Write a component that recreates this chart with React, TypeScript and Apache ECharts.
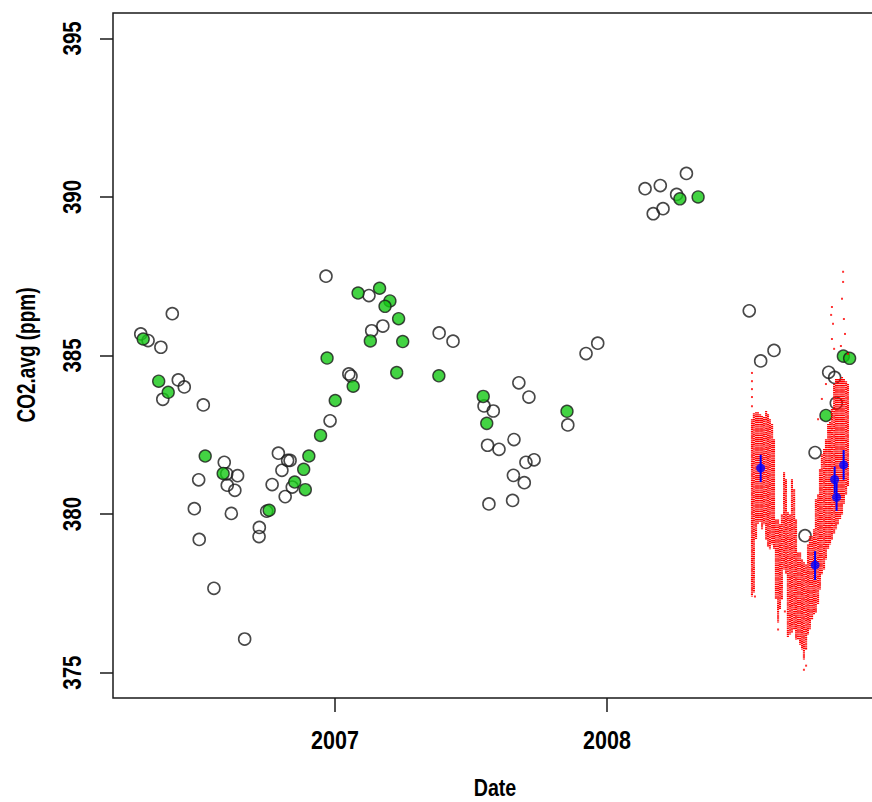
import React, { useEffect, useRef } from "react";
import * as echarts from "echarts";

// Discrete flask samples (open circles)
const openDates = [2006.402, 2006.286, 2006.313, 2006.360, 2006.424, 2006.446, 2006.367, 2006.516, 2006.593, 2006.602, 2006.642, 2006.499, 2006.604, 2006.632, 2006.483, 2006.619, 2006.501, 2006.555, 2006.668, 2006.722, 2006.721, 2006.749, 2006.967, 2007.125, 2007.176, 2007.135, 2007.051, 2007.059, 2006.982, 2006.792, 2006.826, 2006.835, 2006.805, 2006.769, 2006.843, 2006.817, 2007.383, 2007.434, 2007.923, 2007.966, 2007.676, 2007.713, 2007.548, 2007.582, 2007.856, 2007.658, 2007.561, 2007.603, 2007.732, 2007.702, 2007.656, 2007.696, 2007.566, 2007.653, 2008.140, 2008.196, 2008.292, 2008.256, 2008.206, 2008.170, 2008.523, 2008.614, 2008.565, 2008.815, 2008.837, 2008.843, 2008.765, 2008.728];
const openCO2 = [386.32, 385.68, 385.47, 385.26, 384.23, 384.01, 383.62, 383.44, 381.63, 381.27, 381.21, 381.08, 380.91, 380.75, 380.17, 380.02, 379.20, 377.66, 376.06, 379.58, 379.29, 380.09, 387.50, 386.89, 385.93, 385.78, 384.42, 384.35, 382.94, 381.92, 381.69, 381.69, 381.38, 380.93, 380.85, 380.55, 385.71, 385.45, 385.06, 385.39, 384.14, 383.69, 383.41, 383.25, 382.81, 382.35, 382.17, 382.04, 381.71, 381.63, 381.22, 380.99, 380.32, 380.43, 390.26, 390.36, 390.74, 390.08, 389.63, 389.47, 386.41, 385.16, 384.83, 384.47, 384.31, 383.50, 381.94, 379.32];

// Green filled samples
const greenDates = [2006.295, 2006.352, 2006.387, 2006.523, 2006.589, 2006.758, 2007.085, 2007.164, 2007.202, 2007.184, 2007.234, 2007.130, 2007.249, 2006.971, 2007.227, 2007.067, 2007.001, 2006.947, 2006.904, 2006.885, 2006.852, 2006.891, 2007.382, 2007.545, 2007.558, 2007.853, 2008.268, 2008.335, 2008.805, 2008.869, 2008.892];
const greenCO2 = [385.52, 384.19, 383.84, 381.83, 381.28, 380.12, 386.97, 387.12, 386.72, 386.55, 386.16, 385.46, 385.44, 384.92, 384.46, 384.03, 383.58, 382.48, 381.83, 381.41, 381.01, 380.77, 384.36, 383.71, 382.86, 383.24, 389.94, 390.00, 383.11, 384.98, 384.91];

// Blue means with error bars
const blueDates = [2008.565, 2008.765, 2008.837, 2008.844, 2008.870];
const blueCO2 = [381.45, 378.39, 381.09, 380.53, 381.55];
const blueLow = [381.01, 377.92, 380.66, 380.10, 381.08];
const blueHigh = [381.87, 378.83, 381.50, 380.99, 382.02];

// Continuous measurements: per-date range of the red cloud
const cloudDates = [2008.533, 2008.540, 2008.548, 2008.555, 2008.563, 2008.570, 2008.577, 2008.585, 2008.592, 2008.599, 2008.607, 2008.614, 2008.621, 2008.629, 2008.636, 2008.643, 2008.651, 2008.658, 2008.665, 2008.673, 2008.680, 2008.688, 2008.695, 2008.702, 2008.710, 2008.717, 2008.724, 2008.732, 2008.739, 2008.746, 2008.754, 2008.761, 2008.768, 2008.776, 2008.783, 2008.790, 2008.798, 2008.805, 2008.813, 2008.820, 2008.827, 2008.835, 2008.842, 2008.849, 2008.857, 2008.864, 2008.871, 2008.879, 2008.886];
const cloudHigh = [382.99, 383.18, 383.21, 383.21, 383.15, 383.09, 383.06, 383.25, 383.15, 382.99, 382.84, 382.36, 379.83, 379.83, 379.68, 379.99, 381.32, 381.10, 380.06, 379.99, 381.10, 380.78, 379.83, 378.79, 378.79, 378.57, 378.48, 378.41, 379.04, 379.30, 379.30, 379.52, 380.47, 380.62, 381.41, 381.89, 382.05, 382.36, 382.84, 382.90, 383.31, 384.10, 384.26, 384.26, 384.26, 384.32, 384.26, 384.19, 384.10];
const cloudLow = [377.40, 377.53, 379.20, 379.68, 379.74, 379.52, 379.68, 379.20, 378.98, 378.89, 379.04, 378.89, 377.31, 376.58, 376.99, 377.31, 378.25, 378.10, 376.11, 376.20, 376.26, 376.36, 376.04, 376.04, 375.88, 375.73, 375.41, 375.73, 376.20, 376.36, 376.67, 376.83, 376.90, 377.15, 377.62, 378.10, 378.25, 378.57, 378.89, 379.04, 379.20, 379.36, 379.52, 379.68, 379.83, 379.99, 380.31, 380.62, 380.88];

// Isolated continuous readings outside the dense range
const strayDates = [2008.533, 2008.533, 2008.533, 2008.533, 2008.533, 2008.868, 2008.868, 2008.827, 2008.824, 2008.831, 2008.827, 2008.835, 2008.864, 2008.871, 2008.875, 2008.860, 2008.886, 2008.805, 2008.790, 2008.776, 2008.732, 2008.724, 2008.629, 2008.654, 2008.544];
const strayCO2 = [384.45, 384.19, 383.94, 383.69, 383.40, 387.64, 387.32, 386.53, 386.28, 386.00, 385.52, 385.21, 386.79, 386.15, 385.68, 385.30, 385.05, 384.10, 383.63, 382.99, 375.22, 375.09, 376.36, 376.93, 377.40];

const yearTicks = [2007, 2008];
const co2Ticks = [375, 380, 385, 390, 395];
const xTitle = "Date";
const yTitle = "CO2.avg (ppm)";

const FONT = "'Liberation Sans', Arial, Helvetica, sans-serif";
const INK = "#1a1a1a";

export default function App() {
  const ref = useRef<HTMLDivElement>(null);
  useEffect(() => {
    if (!ref.current) return;
    const chart = echarts.init(ref.current, null, { renderer: "svg" });
    const zip = (a: number[], b: number[]) => a.map((v, i) => [v, b[i]]);
    chart.setOption({
      animation: false,
      backgroundColor: "#ffffff",
      grid: {
        left: 113, top: 13, width: 766, height: 685,
        outerBoundsMode: "none",
        containLabel: false,
        show: true, borderColor: INK, borderWidth: 1.5, backgroundColor: "transparent",
      },
      xAxis: {
        type: "value", min: 2006.184, max: 2009.0,
        splitLine: { show: false },
        axisLine: { show: false },
        axisTick: { show: true, customValues: yearTicks, length: 14, lineStyle: { color: INK, width: 1.5 } },
        axisLabel: { show: false, customValues: yearTicks },
      },
      yAxis: {
        type: "value", min: 374.2, max: 395.8,
        splitLine: { show: false },
        axisLine: { show: false },
        axisTick: { show: true, customValues: co2Ticks, length: 13, lineStyle: { color: INK, width: 1.5 } },
        axisLabel: { show: false, customValues: co2Ticks },
      },
      series: [
        {
          type: "scatter", silent: true, symbol: "circle", symbolSize: 12,
          itemStyle: { color: "rgba(255,255,255,0)", borderColor: INK, borderWidth: 1.6 },
          data: zip(openDates, openCO2), z: 2,
        },
        {
          type: "scatter", silent: true, symbol: "circle", symbolSize: 12,
          itemStyle: { color: "#14c814", borderColor: INK, borderWidth: 1.4 },
          data: zip(greenDates, greenCO2), z: 3,
        },
        {
          type: "custom", silent: true, z: 4,
          encode: { x: 0, y: [1, 2] },
          data: cloudDates.map((d, i) => [d, cloudHigh[i], cloudLow[i]]),
          renderItem: (_p: any, api: any) => {
            const a = api.coord([api.value(0), api.value(1)]);
            const b = api.coord([api.value(0), api.value(2)]);
            return {
              type: "line",
              shape: { x1: a[0], y1: a[1], x2: b[0], y2: b[1] },
              style: { stroke: "#ff0000", lineWidth: 2.1, lineDash: [1.3, 0.6] },
            };
          },
        },
        {
          type: "scatter", silent: true, symbol: "rect", symbolSize: 2, z: 4,
          itemStyle: { color: "#ff0000" },
          data: zip(strayDates, strayCO2),
        },
        {
          type: "custom", silent: true, z: 5,
          encode: { x: 0, y: [1, 2] },
          data: blueDates.map((d, i) => [d, blueHigh[i], blueLow[i]]),
          renderItem: (_p: any, api: any) => {
            const a = api.coord([api.value(0), api.value(1)]);
            const b = api.coord([api.value(0), api.value(2)]);
            return {
              type: "line",
              shape: { x1: a[0], y1: a[1], x2: b[0], y2: b[1] },
              style: { stroke: "#0000ff", lineWidth: 2 },
            };
          },
        },
        {
          type: "scatter", silent: true, symbol: "circle", symbolSize: 9, z: 6,
          itemStyle: { color: "#0000ff" },
          data: zip(blueDates, blueCO2),
        },
      ],
    });

    // Condensed bold labels (R-style), placed through the chart's own scales
    const font = `bold 25px ${FONT}`;
    const texts: any[] = [];
    yearTicks.forEach((yr) => {
      const p = chart.convertToPixel({ gridIndex: 0 }, [yr, 375]) as number[];
      texts.push({
        type: "text", x: p[0], y: 740, scaleX: 0.86, silent: true,
        style: { text: String(yr), font, fill: "#000", align: "center", verticalAlign: "middle" },
      });
    });
    co2Ticks.forEach((v) => {
      const p = chart.convertToPixel({ gridIndex: 0 }, [2007, v]) as number[];
      texts.push({
        type: "text", x: 72, y: p[1], rotation: Math.PI / 2, scaleX: 0.82, silent: true,
        style: { text: String(v), font, fill: "#000", align: "center", verticalAlign: "middle" },
      });
    });
    texts.push({
      type: "text", x: 495, y: 788, scaleX: 0.82, silent: true,
      style: { text: xTitle, font: `bold 24px ${FONT}`, fill: "#000", align: "center", verticalAlign: "middle" },
    });
    texts.push({
      type: "text", x: 27, y: 355, rotation: Math.PI / 2, scaleX: 0.76, silent: true,
      style: { text: yTitle, font, fill: "#000", align: "center", verticalAlign: "middle" },
    });
    chart.setOption({ graphic: texts });

    return () => chart.dispose();
  }, []);
  return (
    <div
      ref={ref}
      style={{ position: "fixed", left: 0, top: 0, width: 872, height: 802, background: "#ffffff" }}
    />
  );
}
